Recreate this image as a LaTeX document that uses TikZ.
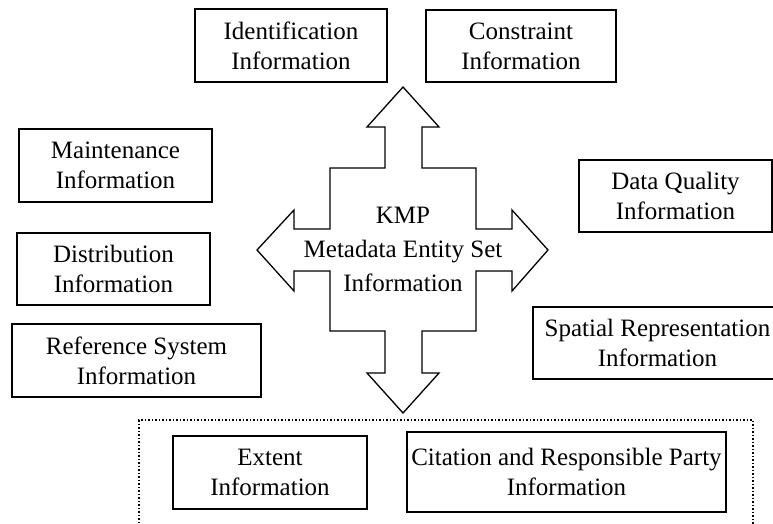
\documentclass[tikz,border=0pt]{standalone}
\usepackage{fontspec}
\setmainfont{Liberation Serif}
\newcommand{\boxfont}{\fontsize{25}{30}\selectfont}
\newcommand{\crossfont}{\fontsize{25}{34}\selectfont}
\tikzset{
    infobox/.style={draw, line width=1.6pt, align=center, inner sep=0pt, font=\boxfont},
    crossarrow/.style={draw, line width=1.3pt, fill=white}
}
\begin{document}
\begin{tikzpicture}[x=1pt, y=-1pt]
    \useasboundingbox (0,0) rectangle (773,524);
    \clip (0,0) rectangle (773,524);

    %Dotted frame round the lower group
    \draw[line width=1.5pt, dotted] (139,530) -- (139,420) -- (753,420) -- (753,530);

    %Cross of four arrows
    \draw[crossarrow] (403,87) -- (439,127) -- (422,127) -- (422,168) -- (476,168) -- (476,229)
        -- (512,229) -- (512,210) -- (548,250) -- (512,291) -- (512,271) -- (476,271)
        -- (476,331) -- (422,331) -- (422,373) -- (439,373) -- (403,413) -- (367,373)
        -- (385,373) -- (385,331) -- (330,331) -- (330,271) -- (294,271) -- (294,291)
        -- (257,250) -- (294,210) -- (294,229) -- (330,229) -- (330,168) -- (385,168)
        -- (385,127) -- (367,127) -- cycle;
    \node (kmp) at (403,249) [align=center, font=\crossfont] {KMP\\Metadata Entity Set\\Information};

    %Boxes round the cross
    \node (ident) at (291,45.5) [infobox, minimum width=192pt, minimum height=73pt] {Identification\\Information};
    \node (constr) at (521,46) [infobox, minimum width=190pt, minimum height=72pt] {Constraint\\Information};
    \node (maint) at (115.5,165.5) [infobox, minimum width=193pt, minimum height=73pt] {Maintenance\\Information};
    \node (distr) at (113.5,269) [infobox, minimum width=193pt, minimum height=72pt] {Distribution\\Information};
    \node (refsys) at (136.5,360.5) [infobox, minimum width=249pt, minimum height=73pt] {Reference System\\Information};
    \node (dataq) at (675.5,196) [infobox, minimum width=193pt, minimum height=72pt] {Data Quality\\Information};
    \node (spatial) at (657.5,343) [infobox, minimum width=249pt, minimum height=72pt] {Spatial Representation\\Information};

    %Inside the dotted frame
    \node (extent) at (270,472.5) [infobox, minimum width=194pt, minimum height=73pt] {Extent\\Information};
    \node (citation) at (566.5,472) [infobox, minimum width=319pt, minimum height=80pt] {Citation and Responsible Party\\Information};
\end{tikzpicture}
\end{document}
